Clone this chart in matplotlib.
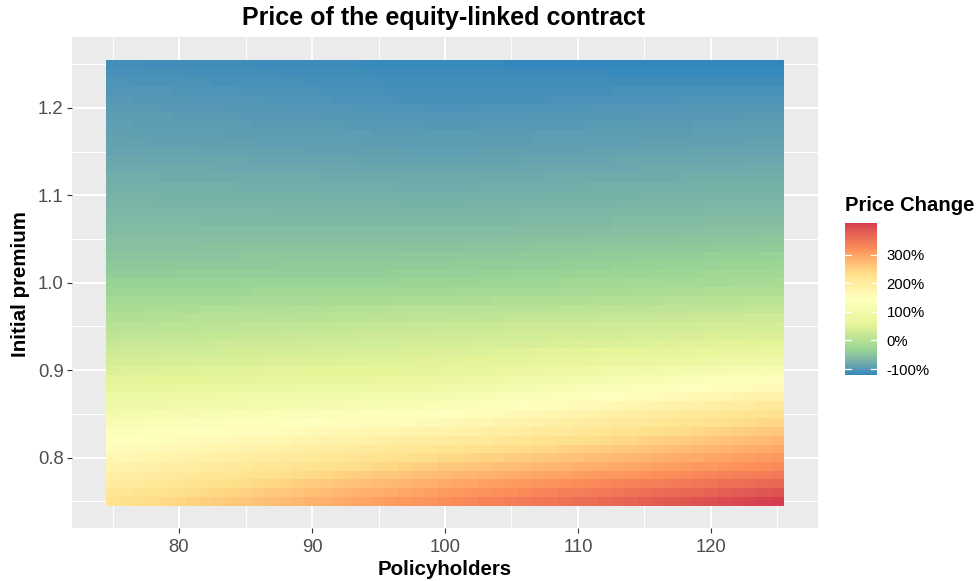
import numpy as np
import matplotlib
matplotlib.use("Agg")
import matplotlib.pyplot as plt
import matplotlib.transforms as mtransforms
from matplotlib.colors import ListedColormap

plt.rcParams['font.family'] = ['Liberation Sans', 'DejaVu Sans']

# ---------------- data ----------------
policyholders = [75, 76, 77, 78, 79, 80, 81, 82, 83, 84, 85, 86, 87, 88, 89, 90, 91, 92, 93, 94,
                 95, 96, 97, 98, 99, 100, 101, 102, 103, 104, 105, 106, 107, 108, 109, 110, 111,
                 112, 113, 114, 115, 116, 117, 118, 119, 120, 121, 122, 123, 124, 125]
premium = [0.75, 0.76, 0.77, 0.78, 0.79, 0.80, 0.81, 0.82, 0.83, 0.84, 0.85, 0.86, 0.87, 0.88,
           0.89, 0.90, 0.91, 0.92, 0.93, 0.94, 0.95, 0.96, 0.97, 0.98, 0.99, 1.00, 1.01, 1.02,
           1.03, 1.04, 1.05, 1.06, 1.07, 1.08, 1.09, 1.10, 1.11, 1.12, 1.13, 1.14, 1.15, 1.16,
           1.17, 1.18, 1.19, 1.20, 1.21, 1.22, 1.23, 1.24, 1.25]

# price change in %, one row per premium (0.75 ... 1.25), one column per policyholder count
price_change = [
    [225,229,233,237,241,244,248,252,256,260,264,268,272,275,279,283,287,291,295,299,303,306,310,314,318,322,326,329,333,336,340,344,347,351,354,358,362,365,369,372,376,380,383,387,390,394,398,401,405,408,412],
    [213,217,221,224,228,232,236,240,243,247,251,255,259,262,266,270,274,278,281,285,289,293,297,300,304,308,311,315,318,321,324,328,331,334,338,341,344,347,351,354,357,360,364,367,370,374,377,380,383,387,390],
    [201,205,208,212,216,219,223,227,230,234,238,241,245,249,253,256,260,264,267,271,275,278,282,286,289,293,296,299,302,305,308,311,314,317,320,323,326,329,332,335,338,341,344,347,350,353,356,359,362,365,368],
    [189,192,196,199,203,206,210,213,217,220,224,227,231,234,238,241,245,248,252,255,259,262,266,269,273,276,279,282,284,287,290,293,296,298,301,304,307,310,312,315,318,321,324,326,329,332,335,338,340,343,346],
    [177,180,183,187,190,193,196,200,203,206,209,213,216,219,222,226,229,232,235,239,242,245,248,252,255,258,261,263,266,269,272,274,277,280,282,285,288,291,293,296,299,302,304,307,310,312,315,318,321,323,326],
    [165,168,171,174,177,180,183,186,189,192,195,198,201,204,207,210,213,216,219,222,225,228,231,234,237,240,243,246,248,251,254,257,260,262,265,268,271,274,276,279,282,285,288,290,293,296,299,302,304,307,310],
    [152,155,158,160,163,166,169,172,174,177,180,183,186,188,191,194,197,200,202,205,208,211,214,216,219,222,225,228,231,234,236,239,242,245,248,251,254,257,259,262,265,268,271,274,277,280,282,285,288,291,294],
    [141,143,146,148,151,153,155,158,160,163,165,167,170,172,175,177,179,182,184,187,189,191,194,196,199,201,204,207,210,213,217,220,223,226,229,232,235,238,242,245,248,251,254,257,260,263,267,270,273,276,279],
    [130,132,134,136,138,140,142,144,146,148,150,152,154,157,159,161,163,165,167,169,171,173,175,177,179,181,184,187,191,194,197,200,204,207,210,213,217,220,223,226,230,233,236,239,243,246,249,252,256,259,262],
    [118,120,122,123,125,127,129,130,132,134,136,137,139,141,143,144,146,148,150,151,153,155,157,158,160,162,165,169,172,175,179,182,185,189,192,195,199,202,205,208,212,215,218,222,225,228,232,235,238,242,245],
    [105,107,108,110,111,113,114,116,117,119,121,122,124,125,127,128,130,132,133,135,136,138,139,141,142,144,147,151,154,157,161,164,168,171,174,178,181,184,188,191,194,198,201,204,208,211,215,218,221,225,228],
    [92,93,95,96,97,99,100,101,103,104,105,107,108,109,110,112,113,114,116,117,118,120,121,122,124,125,128,132,135,138,141,145,148,151,155,158,161,164,168,171,174,177,181,184,187,191,194,197,200,204,207],
    [79,80,81,82,83,84,85,87,88,89,90,91,92,93,94,95,96,97,98,100,101,102,103,104,105,106,109,112,115,119,122,125,128,131,134,138,141,144,147,150,153,157,160,163,166,169,172,176,179,182,185],
    [66,67,68,69,70,71,72,72,73,74,75,76,77,78,79,80,81,82,83,83,84,85,86,87,88,89,92,95,98,101,104,107,110,113,116,119,122,125,127,130,133,136,139,142,145,148,151,154,157,160,163],
    [54,55,56,57,57,58,59,60,61,62,62,63,64,65,66,67,67,68,69,70,71,72,72,73,74,75,78,80,83,86,88,91,94,96,99,102,104,107,110,113,115,118,121,123,126,129,131,134,137,139,142],
    [45,46,46,47,48,49,49,50,51,51,52,53,54,54,55,56,57,57,58,59,59,60,61,62,62,63,65,67,69,72,74,76,78,80,82,85,87,89,91,93,95,98,100,102,104,106,108,111,113,115,117],
    [36,37,37,38,39,39,40,41,41,42,43,43,44,45,46,46,47,48,48,49,50,50,51,52,52,53,55,56,58,59,61,62,64,65,67,69,70,72,73,75,76,78,80,81,83,84,86,87,89,90,92],
    [28,29,29,30,31,31,32,32,33,34,34,35,36,36,37,38,38,39,40,40,41,41,42,43,43,44,45,46,47,48,50,51,52,53,54,55,56,57,59,60,61,62,63,64,65,66,68,69,70,71,72],
    [20,21,21,22,23,23,24,24,25,26,26,27,28,28,29,30,30,31,32,32,33,33,34,35,35,36,37,38,38,39,40,41,41,42,43,44,44,45,46,47,47,48,49,50,50,51,52,53,53,54,55],
    [12,13,13,14,15,15,16,17,17,18,19,19,20,21,22,22,23,24,24,25,26,26,27,28,28,29,30,30,31,32,32,33,33,34,35,35,36,37,37,38,39,39,40,41,41,42,42,43,44,44,45],
    [4,5,5,6,7,8,8,9,10,10,11,12,13,13,14,15,16,16,17,18,18,19,20,21,21,22,23,23,24,24,25,25,26,26,27,28,28,29,29,30,30,31,32,32,33,33,34,34,35,35,36],
    [-4,-3,-3,-2,-1,-1,0,0,1,2,2,3,4,4,5,6,6,7,8,8,9,9,10,11,11,12,13,13,14,14,15,15,16,16,17,18,18,19,19,20,20,21,22,22,23,23,24,24,25,25,26],
    [-12,-11,-11,-10,-10,-9,-9,-8,-8,-7,-6,-6,-5,-5,-4,-4,-3,-2,-2,-1,-1,0,0,1,1,2,3,3,4,4,5,5,6,6,7,8,8,9,9,10,10,11,12,12,13,13,14,14,15,15,16],
    [-20,-20,-19,-19,-19,-18,-18,-17,-17,-17,-16,-16,-16,-15,-15,-15,-14,-14,-14,-13,-13,-12,-12,-12,-11,-11,-10,-10,-9,-8,-8,-7,-7,-6,-5,-5,-4,-3,-3,-2,-1,-1,0,1,1,2,2,3,4,4,5],
    [-28,-28,-28,-27,-27,-27,-27,-26,-26,-26,-26,-25,-25,-25,-25,-24,-24,-24,-24,-23,-23,-23,-23,-22,-22,-22,-21,-21,-20,-19,-19,-18,-17,-17,-16,-15,-15,-14,-13,-12,-12,-11,-10,-10,-9,-8,-8,-7,-6,-6,-5],
    [-35,-35,-35,-35,-34,-34,-34,-34,-34,-34,-33,-33,-33,-33,-33,-33,-32,-32,-32,-32,-32,-32,-31,-31,-31,-31,-30,-30,-29,-28,-28,-27,-26,-26,-25,-24,-24,-23,-22,-21,-21,-20,-19,-19,-18,-17,-17,-16,-15,-15,-14],
    [-40,-40,-40,-40,-40,-39,-39,-39,-39,-39,-39,-39,-39,-38,-38,-38,-38,-38,-38,-38,-38,-37,-37,-37,-37,-37,-36,-36,-35,-35,-34,-33,-33,-32,-32,-31,-30,-30,-29,-29,-28,-27,-27,-26,-26,-25,-24,-24,-23,-23,-22],
    [-45,-45,-45,-45,-45,-44,-44,-44,-44,-44,-44,-44,-44,-43,-43,-43,-43,-43,-43,-43,-43,-42,-42,-42,-42,-42,-41,-41,-40,-40,-39,-39,-38,-38,-37,-37,-36,-36,-35,-35,-34,-34,-33,-33,-32,-32,-31,-31,-30,-30,-29],
    [-50,-50,-50,-50,-49,-49,-49,-49,-49,-49,-48,-48,-48,-48,-48,-48,-47,-47,-47,-47,-47,-47,-46,-46,-46,-46,-46,-45,-45,-44,-44,-43,-43,-42,-42,-42,-41,-41,-40,-40,-39,-39,-39,-38,-38,-37,-37,-36,-36,-35,-35],
    [-53,-53,-53,-53,-53,-53,-53,-52,-52,-52,-52,-52,-52,-52,-52,-52,-52,-52,-52,-51,-51,-51,-51,-51,-51,-51,-51,-50,-50,-50,-49,-49,-48,-48,-48,-47,-47,-47,-46,-46,-46,-45,-45,-45,-44,-44,-43,-43,-43,-42,-42],
    [-56,-56,-56,-56,-56,-56,-56,-56,-56,-56,-56,-56,-56,-56,-56,-56,-56,-56,-56,-56,-56,-56,-56,-56,-56,-56,-56,-55,-55,-55,-54,-54,-54,-53,-53,-53,-52,-52,-52,-52,-51,-51,-51,-50,-50,-50,-49,-49,-49,-48,-48],
    [-59,-59,-59,-59,-59,-59,-59,-59,-59,-59,-59,-59,-59,-60,-60,-60,-60,-60,-60,-60,-60,-60,-60,-60,-60,-60,-60,-59,-59,-59,-59,-58,-58,-58,-57,-57,-57,-57,-56,-56,-56,-56,-55,-55,-55,-54,-54,-54,-54,-53,-53],
    [-62,-62,-62,-62,-62,-62,-62,-63,-63,-63,-63,-63,-63,-63,-63,-63,-63,-63,-63,-64,-64,-64,-64,-64,-64,-64,-64,-63,-63,-63,-63,-62,-62,-62,-61,-61,-61,-61,-60,-60,-60,-60,-59,-59,-59,-58,-58,-58,-58,-57,-57],
    [-65,-65,-65,-65,-65,-66,-66,-66,-66,-66,-66,-66,-66,-67,-67,-67,-67,-67,-67,-67,-67,-68,-68,-68,-68,-68,-68,-67,-67,-67,-67,-66,-66,-66,-65,-65,-65,-65,-64,-64,-64,-64,-63,-63,-63,-62,-62,-62,-62,-61,-61],
    [-68,-68,-68,-68,-69,-69,-69,-69,-69,-69,-70,-70,-70,-70,-70,-70,-71,-71,-71,-71,-71,-71,-72,-72,-72,-72,-72,-71,-71,-71,-71,-70,-70,-70,-69,-69,-69,-69,-68,-68,-68,-68,-67,-67,-67,-66,-66,-66,-66,-65,-65],
    [-71,-71,-71,-71,-72,-72,-72,-72,-72,-72,-73,-73,-73,-73,-73,-73,-74,-74,-74,-74,-74,-74,-75,-75,-75,-75,-75,-75,-74,-74,-74,-74,-73,-73,-73,-73,-72,-72,-72,-72,-71,-71,-71,-71,-70,-70,-70,-70,-69,-69,-69],
    [-74,-74,-74,-74,-75,-75,-75,-75,-75,-75,-76,-76,-76,-76,-76,-76,-77,-77,-77,-77,-77,-77,-78,-78,-78,-78,-78,-78,-77,-77,-77,-77,-76,-76,-76,-76,-75,-75,-75,-75,-74,-74,-74,-74,-73,-73,-73,-73,-72,-72,-72],
    [-77,-77,-77,-77,-78,-78,-78,-78,-78,-78,-79,-79,-79,-79,-79,-79,-80,-80,-80,-80,-80,-80,-81,-81,-81,-81,-81,-81,-80,-80,-80,-80,-80,-79,-79,-79,-79,-79,-78,-78,-78,-78,-78,-77,-77,-77,-77,-77,-76,-76,-76],
    [-80,-80,-80,-81,-81,-81,-81,-81,-82,-82,-82,-82,-82,-83,-83,-83,-83,-83,-84,-84,-84,-84,-84,-85,-85,-85,-85,-85,-84,-84,-84,-84,-83,-83,-83,-83,-82,-82,-82,-82,-81,-81,-81,-81,-80,-80,-80,-80,-79,-79,-79],
    [-83,-83,-83,-84,-84,-84,-84,-85,-85,-85,-85,-86,-86,-86,-86,-87,-87,-87,-87,-88,-88,-88,-88,-89,-89,-89,-89,-88,-88,-88,-88,-87,-87,-87,-86,-86,-86,-86,-85,-85,-85,-85,-84,-84,-84,-83,-83,-83,-83,-82,-82],
    [-86,-86,-86,-87,-87,-87,-87,-88,-88,-88,-88,-89,-89,-89,-89,-90,-90,-90,-90,-91,-91,-91,-91,-92,-92,-92,-92,-92,-91,-91,-91,-91,-90,-90,-90,-90,-89,-89,-89,-89,-88,-88,-88,-88,-87,-87,-87,-87,-86,-86,-86],
    [-89,-89,-89,-90,-90,-90,-90,-91,-91,-91,-91,-92,-92,-92,-92,-93,-93,-93,-93,-94,-94,-94,-94,-95,-95,-95,-95,-95,-94,-94,-94,-94,-93,-93,-93,-93,-92,-92,-92,-92,-91,-91,-91,-91,-90,-90,-90,-90,-89,-89,-89],
    [-91,-91,-92,-92,-92,-92,-93,-93,-93,-94,-94,-94,-94,-95,-95,-95,-95,-96,-96,-96,-97,-97,-97,-97,-98,-98,-98,-98,-97,-97,-97,-97,-96,-96,-96,-96,-95,-95,-95,-95,-94,-94,-94,-94,-93,-93,-93,-93,-92,-92,-92],
    [-93,-93,-94,-94,-94,-95,-95,-95,-96,-96,-96,-97,-97,-97,-97,-98,-98,-98,-99,-99,-99,-100,-100,-100,-101,-101,-101,-101,-100,-100,-100,-100,-99,-99,-99,-99,-98,-98,-98,-98,-97,-97,-97,-97,-96,-96,-96,-96,-95,-95,-95],
    [-95,-95,-96,-96,-96,-97,-97,-98,-98,-98,-99,-99,-99,-100,-100,-100,-101,-101,-101,-102,-102,-103,-103,-103,-104,-104,-104,-104,-103,-103,-103,-103,-102,-102,-102,-102,-101,-101,-101,-101,-100,-100,-100,-100,-99,-99,-99,-99,-98,-98,-98],
    [-97,-97,-98,-98,-99,-99,-99,-100,-100,-101,-101,-101,-102,-102,-103,-103,-103,-104,-104,-105,-105,-105,-106,-106,-107,-107,-107,-107,-106,-106,-106,-106,-105,-105,-105,-105,-104,-104,-104,-104,-103,-103,-103,-103,-102,-102,-102,-102,-101,-101,-101],
    [-100,-100,-101,-101,-102,-102,-102,-103,-103,-104,-104,-104,-105,-105,-106,-106,-106,-107,-107,-108,-108,-108,-109,-109,-110,-110,-110,-110,-109,-109,-109,-109,-109,-108,-108,-108,-108,-108,-107,-107,-107,-107,-107,-106,-106,-106,-106,-106,-105,-105,-105],
    [-103,-103,-104,-104,-104,-105,-105,-106,-106,-106,-107,-107,-107,-108,-108,-108,-109,-109,-109,-110,-110,-111,-111,-111,-112,-112,-112,-112,-112,-112,-111,-111,-111,-111,-111,-111,-111,-111,-110,-110,-110,-110,-110,-110,-110,-110,-109,-109,-109,-109,-109],
    [-106,-106,-107,-107,-107,-108,-108,-108,-109,-109,-109,-110,-110,-110,-110,-111,-111,-111,-112,-112,-112,-113,-113,-113,-114,-114,-114,-114,-114,-114,-114,-114,-114,-114,-114,-114,-114,-114,-113,-113,-113,-113,-113,-113,-113,-113,-113,-113,-113,-113,-113],
    [-109,-109,-110,-110,-110,-110,-111,-111,-111,-112,-112,-112,-112,-113,-113,-113,-113,-114,-114,-114,-115,-115,-115,-115,-116,-116,-116,-116,-116,-116,-116,-116,-116,-116,-116,-116,-116,-116,-117,-117,-117,-117,-117,-117,-117,-117,-117,-117,-117,-117,-117],
    [-112,-112,-112,-113,-113,-113,-113,-114,-114,-114,-114,-115,-115,-115,-115,-116,-116,-116,-116,-117,-117,-117,-117,-118,-118,-118,-118,-118,-118,-118,-119,-119,-119,-119,-119,-119,-119,-119,-120,-120,-120,-120,-120,-120,-120,-120,-121,-121,-121,-121,-121],
]

x_ticks = [80, 90, 100, 110, 120]
x_tick_labels = ["80", "90", "100", "110", "120"]
y_ticks = [0.8, 0.9, 1.0, 1.1, 1.2]
y_tick_labels = ["0.8", "0.9", "1.0", "1.1", "1.2"]
legend_ticks = [-100, 0, 100, 200, 300]
legend_tick_labels = ["-100%", "0%", "100%", "200%", "300%"]

title = "Price of the equity-linked contract"
x_label = "Policyholders"
y_label = "Initial premium"
legend_title = "Price Change"

# Spectral (7 classes), reversed: low = blue, high = red
spectral_rev = ["#3288BD", "#99D594", "#E6F598", "#FFFFBF", "#FEE08B", "#FC8D59", "#D53E4F"]


# ---------- colour ramp interpolated in CIELAB (like ggplot2) ----------
_M = np.array([[0.4124564, 0.3575761, 0.1804375],
               [0.2126729, 0.7151522, 0.0721750],
               [0.0193339, 0.1191920, 0.9503041]])
_WHITE = np.array([0.95047, 1.0, 1.08883])


def hex_to_lab(h):
    c = np.array([int(h[i:i + 2], 16) / 255 for i in (1, 3, 5)])
    lin = np.where(c <= 0.04045, c / 12.92, ((c + 0.055) / 1.055) ** 2.4)
    xyz = _M @ lin / _WHITE
    f = np.where(xyz > (6 / 29) ** 3, np.cbrt(xyz), xyz / (3 * (6 / 29) ** 2) + 4 / 29)
    return np.array([116 * f[1] - 16, 500 * (f[0] - f[1]), 200 * (f[1] - f[2])])


def lab_to_rgb(lab):
    L, a, b = lab
    fy = (L + 16) / 116
    fx = fy + a / 500
    fz = fy - b / 200
    f = np.array([fx, fy, fz])
    xyz = np.where(f > 6 / 29, f ** 3, 3 * (6 / 29) ** 2 * (f - 4 / 29)) * _WHITE
    lin = np.linalg.solve(_M, xyz)
    lin = np.clip(lin, 0, 1)
    c = np.where(lin <= 0.0031308, 12.92 * lin, 1.055 * lin ** (1 / 2.4) - 0.055)
    return np.clip(c, 0, 1)


labs = [hex_to_lab(h) for h in spectral_rev]
stops = np.linspace(0, 1, len(labs))
ramp = []
for t in np.linspace(0, 1, 256):
    i = min(int(t * (len(labs) - 1)), len(labs) - 2)
    u = (t - stops[i]) / (stops[i + 1] - stops[i])
    ramp.append(lab_to_rgb(labs[i] * (1 - u) + labs[i + 1] * u))
cmap = ListedColormap(ramp)

# ---------------- plot ----------------
Z = np.array(price_change, dtype=float)
assert Z.shape == (len(premium), len(policyholders)), Z.shape

W, H = 980, 581
fig = plt.figure(figsize=(W / 100, H / 100), dpi=100)
fig.patch.set_facecolor("white")

px_l, px_r, px_t, px_b = 72, 818, 37.5, 528
ax = fig.add_axes([px_l / W, 1 - px_b / H, (px_r - px_l) / W, (px_b - px_t) / H])
ax.set_facecolor("#EBEBEB")
ax.set_axisbelow(True)

mesh = ax.pcolormesh(policyholders, premium, Z, cmap=cmap, vmin=Z.min(), vmax=Z.max(),
                     shading="nearest", antialiased=False, linewidth=0, zorder=2)

# ggplot-like expansion (5% of the tile extent)
dx = (policyholders[1] - policyholders[0]) / 2
dy = (premium[1] - premium[0]) / 2
x0, x1 = policyholders[0] - dx, policyholders[-1] + dx
y0, y1 = premium[0] - dy, premium[-1] + dy
ax.set_xlim(x0 - 0.05 * (x1 - x0), x1 + 0.05 * (x1 - x0))
ax.set_ylim(y0 - 0.05 * (y1 - y0), y1 + 0.05 * (y1 - y0))

ax.set_xticks(x_ticks)
ax.set_xticklabels(x_tick_labels)
ax.set_yticks(y_ticks)
ax.set_yticklabels(y_tick_labels)
x_minor = [x_ticks[0] - (x_ticks[1] - x_ticks[0]) / 2] + [(a + b) / 2 for a, b in zip(x_ticks[:-1], x_ticks[1:])] + [x_ticks[-1] + (x_ticks[1] - x_ticks[0]) / 2]
y_minor = [y_ticks[0] - (y_ticks[1] - y_ticks[0]) / 2] + [(a + b) / 2 for a, b in zip(y_ticks[:-1], y_ticks[1:])] + [y_ticks[-1] + (y_ticks[1] - y_ticks[0]) / 2]
ax.set_xticks(x_minor, minor=True)
ax.set_yticks(y_minor, minor=True)

ax.grid(which="major", color="white", linewidth=1.4)
ax.grid(which="minor", color="white", linewidth=0.7)
for s in ax.spines.values():
    s.set_visible(False)
ax.tick_params(which="major", length=3.6, width=0.8, color="#333333",
               labelsize=13.3, labelcolor="#4D4D4D")
ax.tick_params(axis="x", which="major", pad=4.0)
ax.tick_params(axis="y", which="major", pad=2.5)
ax.tick_params(which="minor", length=0)

# titles
fig.text(443 / W, 1 - 25 / H, title, ha="center", va="baseline",
         fontsize=18, fontweight="bold", color="black")
fig.text(445 / W, 1 - 575 / H, x_label, ha="center", va="baseline",
         fontsize=14.8, fontweight="bold", color="black")
fig.text(21 / W, 1 - 284 / H, y_label, ha="center", va="center", rotation=90,
         fontsize=14.8, fontweight="bold", color="black")

# colour bar
cax = fig.add_axes([845 / W, 1 - 375 / H, 32 / W, 152 / H])
cb = fig.colorbar(mesh, cax=cax)
cb.outline.set_visible(False)
cb.set_ticks(legend_ticks)
cb.set_ticklabels(legend_tick_labels)
cax.tick_params(length=0, labelsize=10.7, pad=7, labelcolor="black")
trans = mtransforms.blended_transform_factory(cax.transAxes, cax.transData)
for v in legend_ticks:
    cax.plot([0, 0.2], [v, v], color="white", lw=0.9, transform=trans, zorder=5)
    cax.plot([0.8, 1.0], [v, v], color="white", lw=0.9, transform=trans, zorder=5)
fig.text(845 / W, 1 - 211 / H, legend_title, ha="left", va="baseline",
         fontsize=14.6, fontweight="bold", color="black")

fig.savefig("out.png", dpi=100)
